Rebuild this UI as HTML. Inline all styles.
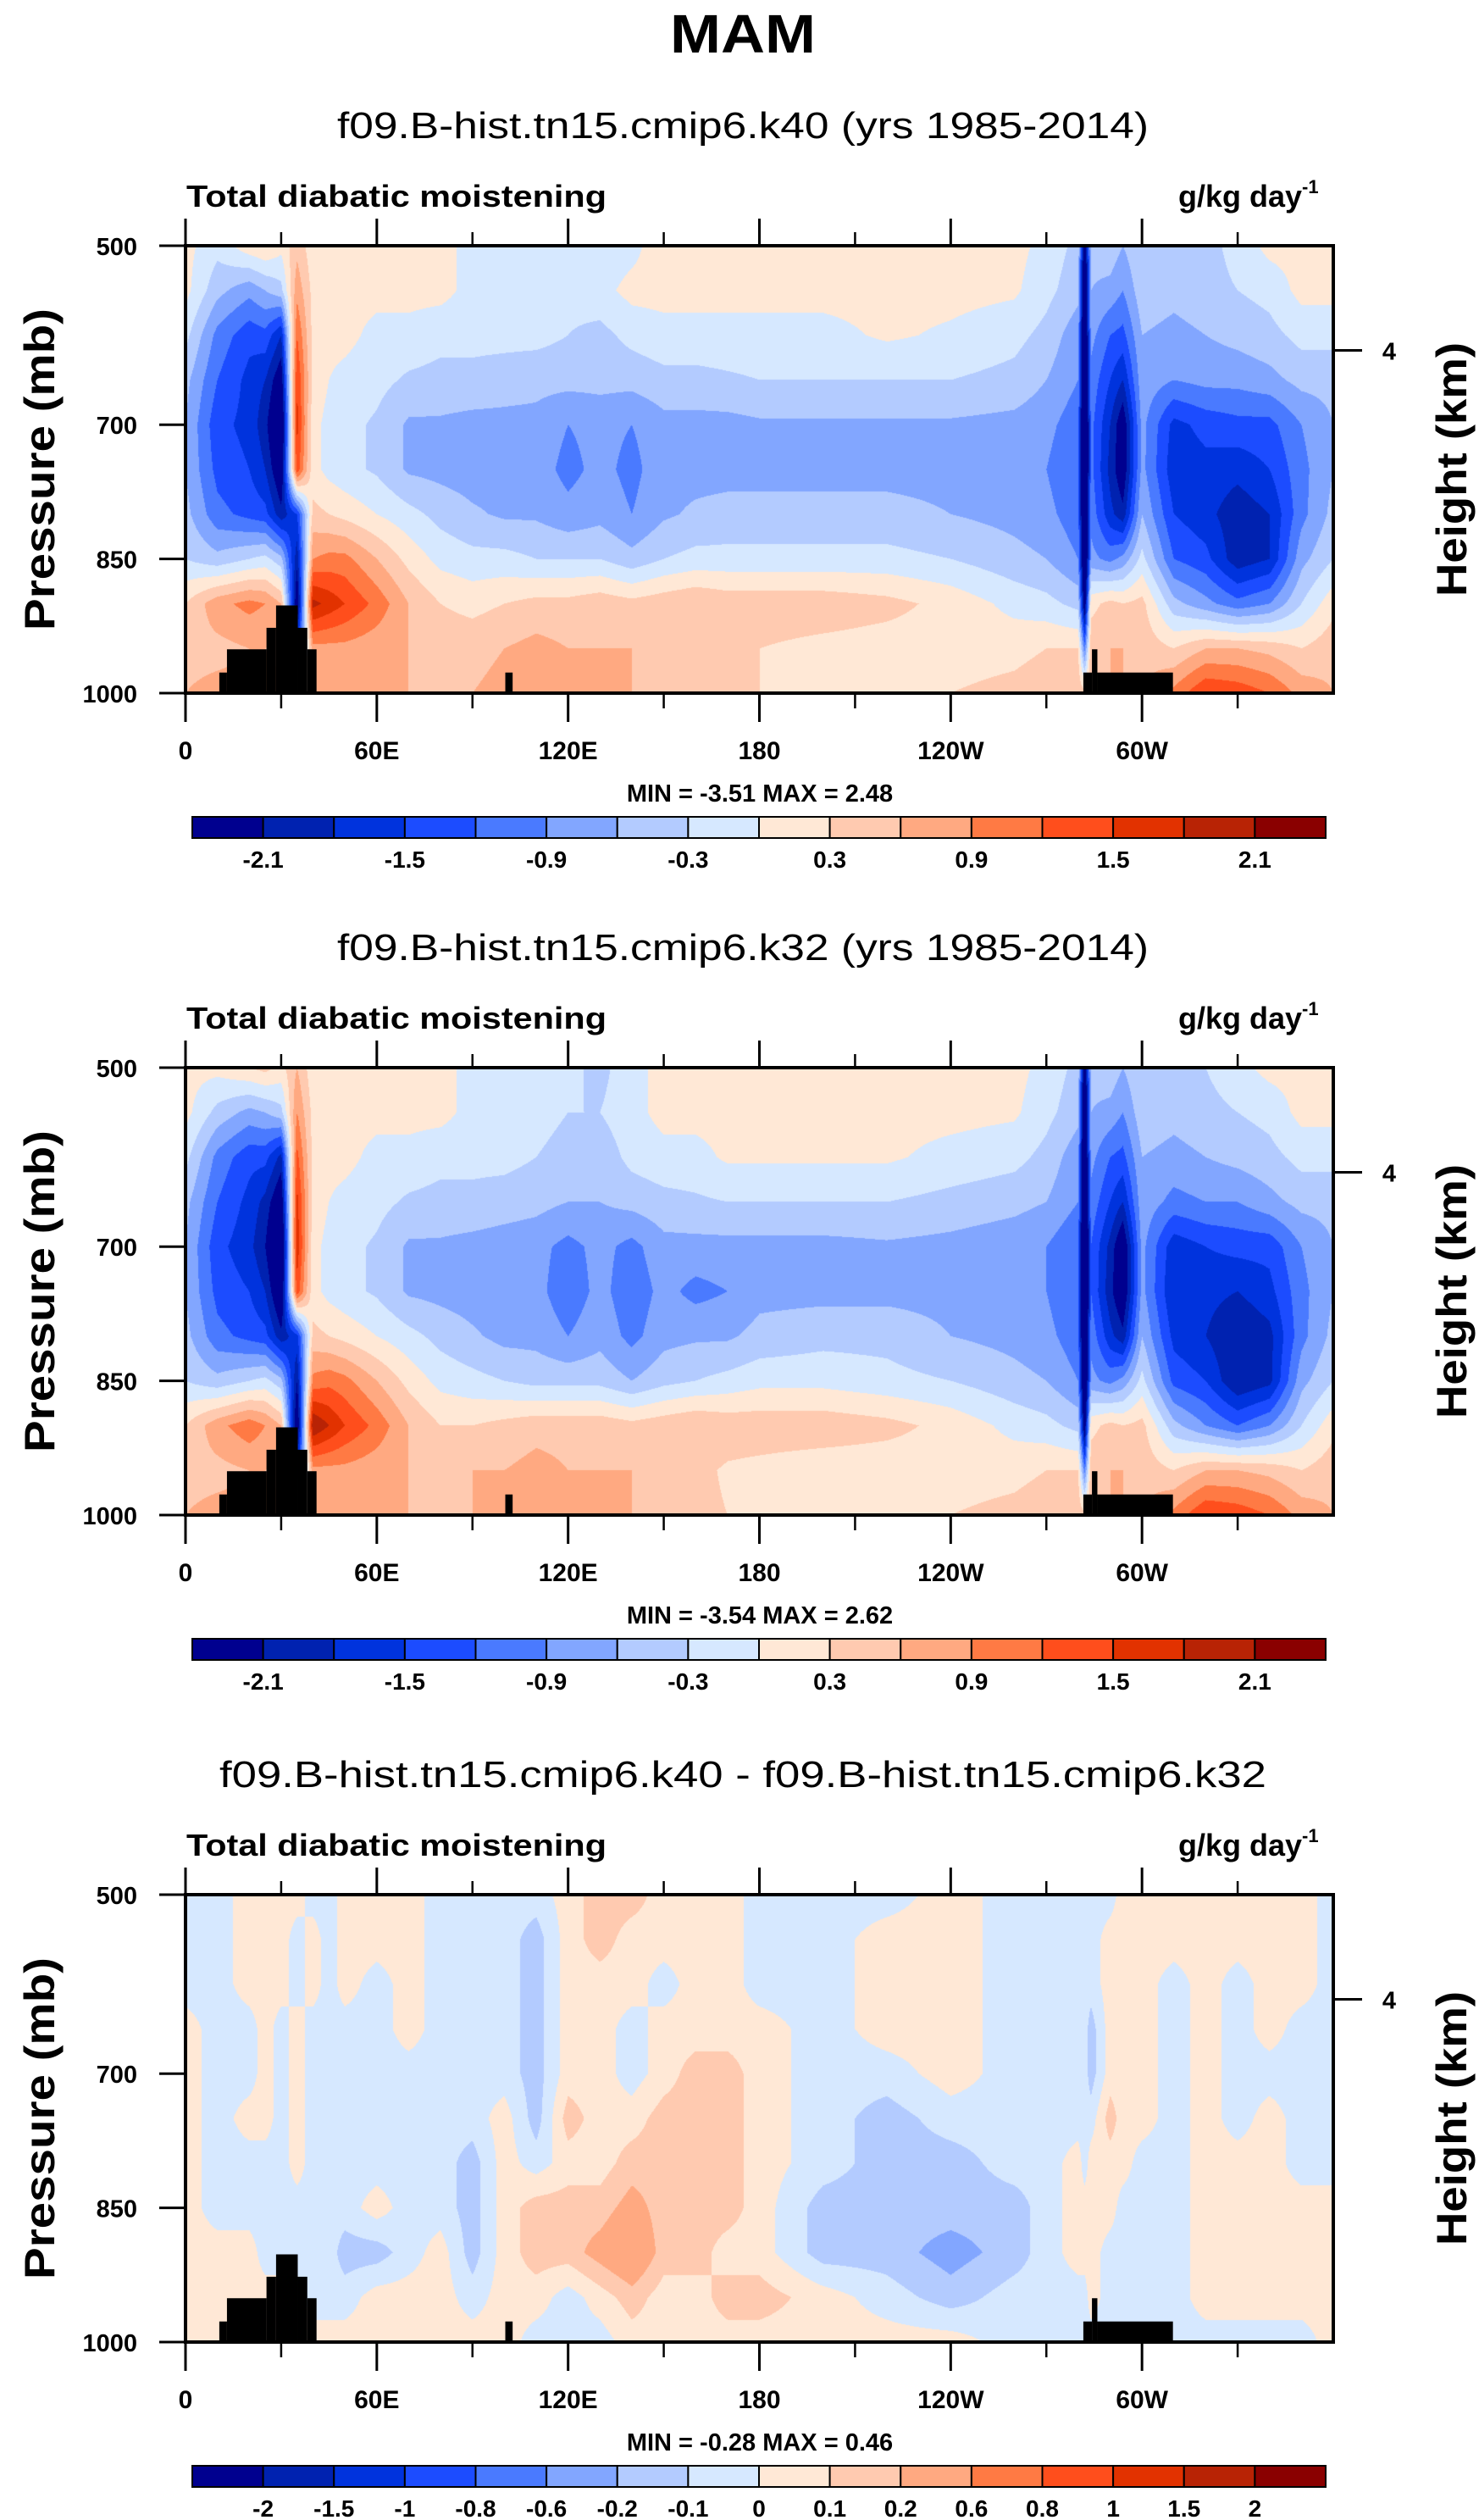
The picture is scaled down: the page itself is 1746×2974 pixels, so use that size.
<!DOCTYPE html>
<html><head><meta charset="utf-8">
<style>
html,body{margin:0;padding:0;background:#fff;}
#wrap{position:relative;width:1746px;height:2974px;overflow:hidden;}
canvas{position:absolute;}
svg{position:absolute;left:0;top:0;}
text{font-family:"Liberation Sans",sans-serif;}
</style></head>
<body>
<div id="wrap">
<canvas id="c0"></canvas>
<canvas id="c1"></canvas>
<canvas id="c2"></canvas>
<svg id="svg" width="1746" height="2974" xmlns="http://www.w3.org/2000/svg">
<text x="877" y="62" text-anchor="middle" font-size="64" font-weight="bold" textLength="172" lengthAdjust="spacingAndGlyphs">MAM</text>
</svg>
</div>
<script>
// ---- data ----
const lons=[0,10,20,25,30,35,40,45,50,60,70,80,90,100,110,120,130,140,150,160,170,180,200,220,240,260,270,280,282,284,290,294,300,310,320,330,340,350,360];
const levs=[500,550,600,650,700,750,800,850,900,950,1000];
const p1=[
[0.1,-0.2,0.2,0.3,0.1,0.5,0.1,0.1,0.1,0.1,0.1,0.1,-0.1,-0.2,-0.2,-0.2,-0.2,-0.1,0.2,0.1,0.1,0.1,0.1,0.1,0.1,0.1,-0.1,-0.4,-2.5,-0.5,-0.4,-0.6,-0.3,-0.5,-0.4,-0.2,0.1,0.1,0.1],
[0.1,-0.5,-0.8,-0.6,-0.4,0.8,0.2,0.1,0.1,0.1,0.1,0.1,-0.1,-0.2,-0.2,-0.2,-0.1,0.1,0.1,0.1,0.1,0.1,0.1,0.1,0.1,0.05,-0.2,-0.5,-3,-0.6,-0.7,-0.9,-0.4,-0.5,-0.4,-0.3,-0.2,0.1,0.1],
[-0.2,-1.0,-1.4,-1.3,-1.8,1.2,0.2,0.1,0.1,-0.1,-0.1,-0.2,-0.2,-0.2,-0.2,-0.3,-0.4,-0.2,-0.1,-0.1,-0.1,-0.1,-0.1,0.05,-0.05,-0.2,-0.4,-0.8,-3,-0.8,-1.2,-1.3,-0.6,-0.7,-0.6,-0.5,-0.4,-0.2,-0.2],
[-0.5,-1.2,-1.6,-1.8,-2.4,1.5,0.2,0.0,-0.1,-0.2,-0.35,-0.4,-0.4,-0.45,-0.5,-0.5,-0.5,-0.5,-0.4,-0.4,-0.35,-0.3,-0.3,-0.3,-0.3,-0.4,-0.6,-0.9,-3.2,-1.0,-1.5,-1.8,-0.7,-0.9,-0.8,-0.8,-0.7,-0.5,-0.5],
[-0.6,-1.4,-1.6,-2.0,-2.8,1.6,0.1,-0.1,-0.2,-0.35,-0.65,-0.65,-0.7,-0.7,-0.7,-0.9,-0.8,-0.9,-0.7,-0.7,-0.7,-0.65,-0.65,-0.65,-0.65,-0.7,-0.8,-1.1,-3.3,-1.1,-1.8,-2.4,-0.8,-1.6,-1.4,-1.3,-1.3,-0.9,-0.6],
[-0.6,-1.3,-1.5,-1.8,-2.5,1.4,0.1,-0.1,-0.2,-0.35,-0.65,-0.7,-0.75,-0.75,-0.75,-1.0,-0.8,-1.0,-0.7,-0.7,-0.7,-0.7,-0.7,-0.7,-0.7,-0.7,-0.9,-1.2,-3.3,-1.1,-1.9,-2.4,-0.8,-1.7,-1.6,-1.7,-1.5,-1.0,-0.6],
[-0.5,-1.1,-1.3,-1.4,-2.0,-1.5,0.4,0.3,0.2,0.0,-0.2,-0.4,-0.55,-0.65,-0.65,-0.8,-0.7,-0.9,-0.65,-0.55,-0.5,-0.5,-0.5,-0.5,-0.6,-0.7,-0.8,-1.1,-3.2,-1.0,-1.7,-2.0,-0.6,-1.5,-1.7,-2.0,-1.8,-1.0,-0.5],
[-0.3,-0.5,-0.3,-0.2,-0.5,-2.0,0.9,1.0,1.0,0.6,0.2,-0.1,-0.2,-0.2,-0.3,-0.3,-0.3,-0.5,-0.3,-0.2,-0.2,-0.2,-0.2,-0.2,-0.3,-0.5,-0.6,-0.9,-3.0,-0.8,-1.0,-0.8,-0.2,-1.2,-1.4,-2.0,-1.8,-0.7,-0.3],
[0.3,0.8,1.0,0.9,0.6,-2.5,1.9,1.7,1.5,1.1,0.6,0.3,0.2,0.3,0.4,0.4,0.5,0.4,0.5,0.6,0.5,0.5,0.5,0.4,0.2,-0.1,-0.2,-0.4,-2.5,0.2,0.4,0.3,0.4,-0.5,-0.8,-1.1,-0.9,-0.3,0.2],
[0.5,0.5,0.6,0.6,0.5,-1.5,0.8,0.8,0.8,0.7,0.6,0.5,0.5,0.6,0.7,0.6,0.6,0.6,0.5,0.4,0.3,0.3,0.2,0.15,0.15,0.2,0.3,0.3,-1.0,0.5,0.6,0.6,0.5,0.3,0.6,0.6,0.5,0.3,0.5],
[0.6,0.7,0.7,0.7,0.7,-0.3,0.7,0.7,0.7,0.6,0.6,0.6,0.6,0.7,0.7,0.6,0.6,0.6,0.5,0.4,0.3,0.3,0.3,0.3,0.3,0.4,0.5,0.5,0.4,0.6,0.6,0.6,0.6,1.0,1.5,1.4,1.2,0.8,0.6]
];
const p2=[
[0.1,0.1,0.3,0.4,0.2,0.6,0.1,0.1,0.1,0.1,0.1,0.1,-0.1,-0.2,-0.3,-0.2,-0.4,-0.1,0.1,0.1,0.1,0.1,0.1,0.1,0.1,0.1,-0.1,-0.4,-2.5,-0.5,-0.4,-0.6,-0.3,-0.5,-0.3,-0.1,0.1,0.1,0.1],
[0.1,-0.4,-0.7,-0.6,-0.4,0.9,0.2,0.1,0.1,0.1,0.1,0.1,-0.1,-0.2,-0.2,-0.3,-0.3,-0.1,0.1,0.1,0.1,0.1,0.1,0.1,0.1,0.05,-0.2,-0.5,-3,-0.6,-0.7,-0.9,-0.4,-0.5,-0.4,-0.3,-0.2,0.1,0.1],
[-0.2,-1.0,-1.4,-1.4,-1.9,1.3,0.2,0.1,0.1,-0.1,-0.1,-0.2,-0.2,-0.2,-0.3,-0.4,-0.5,-0.2,-0.1,-0.1,0.05,0.05,0.05,0.05,-0.1,-0.2,-0.4,-0.8,-3,-0.8,-1.2,-1.3,-0.6,-0.7,-0.6,-0.5,-0.4,-0.2,-0.2],
[-0.5,-1.2,-1.6,-1.9,-2.5,1.6,0.2,0.0,-0.1,-0.2,-0.35,-0.4,-0.4,-0.45,-0.5,-0.6,-0.6,-0.5,-0.4,-0.35,-0.3,-0.3,-0.3,-0.3,-0.4,-0.5,-0.6,-0.9,-3.2,-1.0,-1.5,-1.8,-0.7,-1.0,-0.9,-0.9,-0.7,-0.5,-0.5],
[-0.6,-1.4,-1.7,-2.1,-2.9,1.7,0.1,-0.1,-0.2,-0.35,-0.65,-0.65,-0.7,-0.75,-0.8,-1.0,-0.8,-1.0,-0.7,-0.7,-0.7,-0.7,-0.7,-0.65,-0.7,-0.8,-0.9,-1.2,-3.3,-1.2,-1.9,-2.5,-0.8,-1.7,-1.5,-1.4,-1.4,-0.9,-0.6],
[-0.6,-1.3,-1.5,-1.8,-2.6,1.4,0.1,-0.1,-0.2,-0.35,-0.65,-0.7,-0.75,-0.8,-0.8,-1.1,-0.8,-1.1,-0.8,-1.0,-0.9,-0.7,-0.7,-0.7,-0.7,-0.8,-0.9,-1.2,-3.3,-1.2,-2.0,-2.5,-0.8,-1.8,-1.7,-1.8,-1.6,-1.0,-0.6],
[-0.5,-1.1,-1.3,-1.4,-2.0,-1.6,0.4,0.3,0.2,0.0,-0.2,-0.4,-0.55,-0.7,-0.7,-0.9,-0.7,-1.0,-0.7,-0.65,-0.65,-0.5,-0.4,-0.4,-0.6,-0.7,-0.8,-1.1,-3.2,-1.0,-1.7,-2.0,-0.6,-1.6,-1.8,-2.1,-1.9,-1.0,-0.5],
[-0.3,-0.5,-0.3,-0.2,-0.5,-2.1,1.0,1.1,1.0,0.6,0.2,-0.1,-0.2,-0.3,-0.4,-0.4,-0.4,-0.6,-0.4,-0.3,-0.2,-0.1,-0.1,-0.2,-0.3,-0.5,-0.6,-0.9,-3.0,-0.8,-1.0,-0.8,-0.2,-1.3,-1.5,-2.1,-1.9,-0.7,-0.3],
[0.3,0.8,1.1,0.9,0.6,-2.6,2.1,1.8,1.5,1.1,0.6,0.3,0.3,0.4,0.5,0.5,0.5,0.4,0.5,0.6,0.5,0.5,0.5,0.4,0.2,-0.1,-0.2,-0.4,-2.5,0.2,0.4,0.3,0.4,-0.5,-0.9,-1.2,-0.9,-0.3,0.2],
[0.5,0.5,0.6,0.6,0.5,-1.5,0.8,0.8,0.8,0.7,0.6,0.5,0.6,0.6,0.7,0.6,0.6,0.6,0.5,0.4,0.25,0.2,0.1,0.1,0.15,0.2,0.3,0.3,-1.0,0.5,0.6,0.6,0.5,0.3,0.6,0.6,0.5,0.3,0.5],
[0.6,0.7,0.7,0.7,0.7,-0.3,0.7,0.7,0.7,0.6,0.6,0.6,0.6,0.7,0.7,0.6,0.6,0.6,0.5,0.4,0.3,0.3,0.3,0.3,0.3,0.4,0.5,0.5,0.4,0.6,0.6,0.6,0.6,1.0,1.5,1.4,1.2,0.8,0.6]
];
const p3=[
[-.05,-.05,.05,.05,.05,.05,-.05,-.05,.05,.05,.05,-.05,-.05,-.05,-.05,.05,.15,.15,.05,.05,.05,-.05,-.05,-.05,.05,-.05,-.05,-.05,-.05,-.05,-.05,.05,.05,.05,.05,.05,.05,.05,-.05],
[-.05,-.05,.05,.05,.05,-.05,.05,-.05,.05,.05,.05,-.05,-.05,-.05,-.15,.05,.15,.05,.05,.05,.05,-.05,-.05,.05,.05,-.05,-.05,-.05,-.05,-.05,.05,.05,.05,.05,.05,.05,.05,.05,-.05],
[-.05,-.05,.05,.05,.05,-.05,.05,-.05,.05,-.05,.05,-.05,-.05,-.05,-.15,.05,.05,.05,-.05,.05,.05,-.05,-.05,.05,.05,-.05,-.05,-.05,-.05,-.05,.05,.05,.05,-.05,.05,-.05,.05,.05,-.05],
[.05,-.05,-.05,.05,-.05,.05,-.05,-.05,-.05,-.05,.05,-.05,-.05,-.05,-.15,.05,.05,-.05,.05,.05,.05,.05,-.05,.05,.05,-.05,-.05,-.05,-.05,-.15,.05,.05,.05,-.05,.05,-.05,.05,-.05,-.05],
[.05,-.05,-.05,.05,-.05,.05,-.05,-.05,-.05,-.05,-.05,-.05,-.05,-.05,-.15,.05,.05,-.05,.05,.15,.15,.05,-.05,-.05,.05,-.05,-.05,-.05,-.05,-.15,.05,.05,.05,-.05,.05,-.05,-.05,-.05,-.05],
[.05,-.05,.05,.05,-.05,.05,-.05,-.05,-.05,-.05,-.05,-.05,-.05,.05,-.15,.15,.05,.05,.15,.15,.15,.05,-.05,-.15,-.05,-.05,-.05,-.05,-.05,-.05,.15,.05,.05,-.05,.05,-.05,.05,-.05,-.05],
[.05,-.05,-.05,-.05,-.05,.05,-.05,-.05,-.05,-.05,-.05,-.05,-.15,.05,-.05,.05,.05,.15,.15,.15,.15,.05,-.05,-.15,-.15,-.05,-.05,.05,-.05,.05,.05,.05,-.05,-.05,.05,.05,.05,-.05,-.05],
[.05,-.05,-.05,-.05,-.05,-.05,-.05,-.05,-.05,.05,-.05,-.05,-.15,.05,.15,.15,.15,.25,.15,.15,.15,.05,-.15,-.15,-.15,-.15,-.05,.05,.05,.05,.05,-.05,-.05,-.05,.05,.05,.05,.05,.05],
[.05,.05,.05,-.05,-.05,-.05,-.05,-.05,-.15,-.15,-.05,.05,-.15,.05,.15,.15,.25,.35,.15,.15,.05,.05,-.15,-.15,-.25,-.15,-.05,.05,.05,.05,-.05,-.05,-.05,-.05,.05,.05,.05,.05,.05],
[.05,.05,.05,.05,.05,.05,-.05,-.05,-.05,.05,.05,.05,-.05,.05,.05,-.05,.05,.15,.05,.05,.15,.15,.05,-.05,-.15,-.05,-.05,-.05,-.05,.05,-.05,-.05,-.05,-.05,.05,.05,.05,.05,.05],
[.05,.05,.05,.05,.05,.05,.05,.05,.05,.05,.05,.05,.05,.05,-.05,-.05,-.05,.05,.05,.05,.05,.05,.05,.05,.05,-.05,-.05,-.05,-.05,-.05,-.05,-.05,-.05,-.05,-.05,-.05,-.05,-.05,.05]
];
const bounds12=[-2.1,-1.8,-1.5,-1.2,-0.9,-0.6,-0.3,0,0.3,0.6,0.9,1.2,1.5,1.8,2.1];
const labels12=['-2.1','','-1.5','','-0.9','','-0.3','','0.3','','0.9','','1.5','','2.1'];
const bounds3=[-2,-1.5,-1,-0.8,-0.6,-0.2,-0.1,0,0.1,0.2,0.6,0.8,1,1.5,2];
const labels3=['-2','-1.5','-1','-0.8','-0.6','-0.2','-0.1','0','0.1','0.2','0.6','0.8','1','1.5','2'];
const colors=['#00008f','#0022b0','#0033dd','#1c4cff','#4a7aff','#82a6ff','#b3cbff','#d6e8ff','#ffe8d6','#ffcab0','#ffa981','#ff7a44','#ff4e1c','#e23200','#b82305','#8a0000'];
const landLon0=[10.6,13.0,25.4,28.4,35.2,38.2,100.3,281.6,284.3,286.0];
const landLon1=[13.0,25.4,28.4,35.2,38.2,41.1,102.6,284.3,286.0,309.7];
const landTop=[977,951,927,902,927,951,977,977,951,977];
const xTickLons=[0,60,120,180,240,300];
const xTickLabels=['0','60E','120E','180','120W','60W'];
const xMinorLons=[30,90,150,210,270,330];
const yTicks=[500,700,850,1000];
const heightTickP=[617];
const heightTickLabels=['4'];
const subtitles=['f09.B-hist.tn15.cmip6.k40 (yrs 1985-2014)','f09.B-hist.tn15.cmip6.k32 (yrs 1985-2014)','f09.B-hist.tn15.cmip6.k40 - f09.B-hist.tn15.cmip6.k32'];
const minVals=['-3.51','-3.54','-0.28'];
const maxVals=['2.48','2.62','0.46'];

// ---- layout ----
const L=219,R=1574,W=R-L,H=528;
const panelTops=[290,1260,2236];
const panels=[
 {data:p1,bounds:bounds12,labels:labels12},
 {data:p2,bounds:bounds12,labels:labels12},
 {data:p3,bounds:bounds3,labels:labels3}
];
const NS='http://www.w3.org/2000/svg';
const svg=document.getElementById('svg');
function xs(lon){return L+lon/360*W;}
function ys(T,p){return T+(p-500)/500*H;}
function mk(tag,attrs,parent){const e=document.createElementNS(NS,tag);for(const k in attrs)e.setAttribute(k,attrs[k]);(parent||svg).appendChild(e);return e;}
function hex(c){return [parseInt(c.slice(1,3),16),parseInt(c.slice(3,5),16),parseInt(c.slice(5,7),16)];}
const rgb=colors.map(hex);
function interp(data,lon,p){
 let i=0;while(i<lons.length-2&&lons[i+1]<lon)i++;
 let j=0;while(j<levs.length-2&&levs[j+1]<p)j++;
 const tx=Math.min(1,Math.max(0,(lon-lons[i])/(lons[i+1]-lons[i])));
 const ty=Math.min(1,Math.max(0,(p-levs[j])/(levs[j+1]-levs[j])));
 const a=data[j][i],b=data[j][i+1],c=data[j+1][i],d=data[j+1][i+1];
 return a*(1-tx)*(1-ty)+b*tx*(1-ty)+c*(1-tx)*ty+d*tx*ty;
}
panels.forEach((pn,k)=>{
 const T=panelTops[k];
 const cv=document.getElementById('c'+k);
 cv.width=W;cv.height=H;cv.style.left=L+'px';cv.style.top=T+'px';
 const ctx=cv.getContext('2d');const img=ctx.createImageData(W,H);
 for(let y=0;y<H;y++){const p=500+(y+0.5)/H*500;
  for(let x=0;x<W;x++){const lon=(x+0.5)/W*360;const v=Math.round(interp(pn.data,lon,p)*1e6)/1e6;
   let b=0;while(b<pn.bounds.length&&v>=pn.bounds[b])b++;
   const c=rgb[b];const o=(y*W+x)*4;img.data[o]=c[0];img.data[o+1]=c[1];img.data[o+2]=c[2];img.data[o+3]=255;}}
 ctx.putImageData(img,0,0);

 const g=mk('g',{});
 
 
 for(let i=0;i<landLon0.length;i++){
  const r=mk('rect',{x:xs(landLon0[i]),y:ys(T,landTop[i]),width:xs(landLon1[i])-xs(landLon0[i]),height:ys(T,1000)-ys(T,landTop[i]),fill:'#000'},g);
  
  
 }
 const fr=mk('rect',{x:L,y:T,width:W,height:H,fill:'none',stroke:'#000','stroke-width':4},g);
 
 
 xTickLons.forEach((lon,i)=>{
  mk('line',{x1:xs(lon),x2:xs(lon),y1:T,y2:T-32,stroke:'#000','stroke-width':3},g);
  mk('line',{x1:xs(lon),x2:xs(lon),y1:T+H,y2:T+H+34,stroke:'#000','stroke-width':3},g);
  const t=mk('text',{x:xs(lon),y:T+H+78,'text-anchor':'middle','font-size':30,'font-weight':'bold'},g);
  
  
  t.textContent=xTickLabels[i];
 });
 xMinorLons.forEach(lon=>{
  mk('line',{x1:xs(lon),x2:xs(lon),y1:T,y2:T-16,stroke:'#000','stroke-width':2.5},g);
  mk('line',{x1:xs(lon),x2:xs(lon),y1:T+H,y2:T+H+18,stroke:'#000','stroke-width':2.5},g);
 });
 yTicks.forEach(p=>{
  mk('line',{x1:L-31,x2:L,y1:ys(T,p),y2:ys(T,p),stroke:'#000','stroke-width':3},g);
  const t=mk('text',{x:162,y:ys(T,p)+11,'text-anchor':'end','font-size':29,'font-weight':'bold'},g);
  
  
  t.textContent=p;
 });
 heightTickP.forEach((p,i)=>{
  mk('line',{x1:R,x2:R+34,y1:ys(T,p),y2:ys(T,p),stroke:'#000','stroke-width':3},g);
  const t=mk('text',{x:1640,y:ys(T,p)+11,'text-anchor':'middle','font-size':29,'font-weight':'bold'},g);
  
  
  t.textContent=heightTickLabels[i];
 });
 const yt=mk('text',{x:0,y:0,transform:`translate(64,${T+H/2}) rotate(-90)`,'text-anchor':'middle','font-size':50,'font-weight':'bold',textLength:380,lengthAdjust:'spacingAndGlyphs'},g);
 
 
 yt.textContent='Pressure (mb)';
 const ht=mk('text',{x:0,y:0,transform:`translate(1731,${T+H/2}) rotate(-90)`,'text-anchor':'middle','font-size':50,'font-weight':'bold',textLength:300,lengthAdjust:'spacingAndGlyphs'},g);
 
 
 ht.textContent='Height (km)';
 const st=mk('text',{x:877,y:T-127,'text-anchor':'middle','font-size':44},g);
 
 
 st.setAttribute('textLength',k==2?1236:958);
 st.setAttribute('lengthAdjust','spacingAndGlyphs');
 st.textContent=subtitles[k];
 const lt=mk('text',{x:220,y:T-46,'font-size':36,'font-weight':'bold',textLength:496,lengthAdjust:'spacingAndGlyphs'},g);
 
 
 lt.textContent='Total diabatic moistening';
 const ut=mk('text',{x:1391,y:T-46,'font-size':36,'font-weight':'bold'},g);
 
 
 ut.innerHTML='g/kg day<tspan font-size="22" dy="-16">-1</tspan>';
 const mm=mk('text',{x:897,y:T+H+128,'text-anchor':'middle','font-size':29,'font-weight':'bold','xml:space':'preserve'},g);
 
 
 mm.textContent='MIN =  '+minVals[k]+'   MAX =   '+maxVals[k];
 const cbL=227,cbR=1565,cbT=T+674,cbH=25,n=colors.length,bw=(cbR-cbL)/n;
 colors.forEach((c,i)=>{
  const r=mk('rect',{x:cbL+i*bw,y:cbT,width:bw,height:cbH,fill:c,stroke:'#000','stroke-width':2},g);
  
  
 });
 pn.labels.forEach((lb,i)=>{
  if(!lb)return;
  const t=mk('text',{x:cbL+(i+1)*bw,y:cbT+cbH+35,'text-anchor':'middle','font-size':28,'font-weight':'bold'},g);
  
  
  t.textContent=lb;
 });
});
</script>
</body></html>
